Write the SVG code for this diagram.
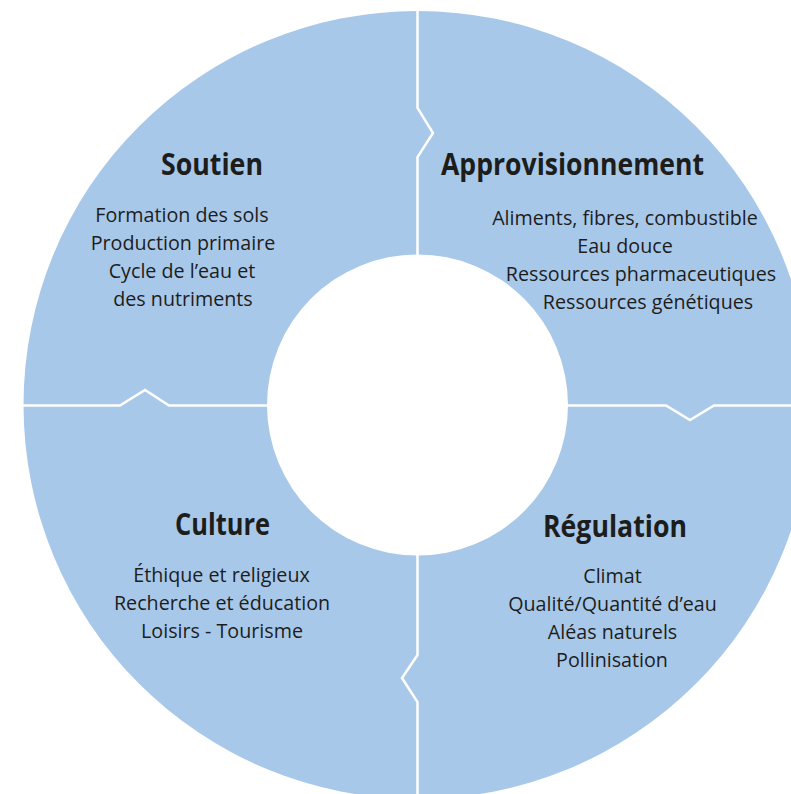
<svg xmlns="http://www.w3.org/2000/svg" width="791" height="794" viewBox="0 0 791 794">
<style>
.ring{fill:#a8c8ea;fill-rule:evenodd}
.div{fill:none;stroke:#ffffff;stroke-width:2.5;stroke-linejoin:miter}
.title{font-family:"Open Sans","Liberation Sans",sans-serif;font-weight:bold;font-size:30px;fill:#1d1d1b;text-anchor:middle}
.body{font-family:"Open Sans","Liberation Sans",sans-serif;font-size:19.7px;fill:#1d1d1b;text-anchor:middle}
</style>
<rect width="791" height="794" fill="#ffffff"/>
<path class="ring" d="M23.5,405 A394,394 0 1,0 811.5,405 A394,394 0 1,0 23.5,405 Z M267,405 A150.5,150.5 0 1,1 568,405 A150.5,150.5 0 1,1 267,405 Z"/>
<g id="connectors">
<polyline class="div" points="417.5,10 417.5,108 433,133 417.5,157 417.5,256"/>
<polyline class="div" points="22,405.5 120,405.5 145,390 169,405.5 268,405.5"/>
<polyline class="div" points="567,405.5 666,405.5 690,420 714,405.5 813,405.5"/>
<polyline class="div" points="417.5,554 417.5,655 402,678 417.5,702 417.5,800"/>
</g>
<g id="soutien">
<text class="title" x="212" y="175" textLength="102" lengthAdjust="spacingAndGlyphs">Soutien</text>
<text class="body" x="182" y="222">Formation des sols</text>
<text class="body" x="183" y="250">Production primaire</text>
<text class="body" x="182" y="278">Cycle de l’eau et</text>
<text class="body" x="183" y="306">des nutriments</text>
</g>
<g id="approvisionnement">
<text class="title" x="572.5" y="175" textLength="263" lengthAdjust="spacingAndGlyphs">Approvisionnement</text>
<text class="body" x="625" y="225">Aliments, fibres, combustible</text>
<text class="body" x="625" y="253">Eau douce</text>
<text class="body" x="641" y="281">Ressources pharmaceutiques</text>
<text class="body" x="648" y="309">Ressources génétiques</text>
</g>
<g id="culture">
<text class="title" x="222.5" y="535" textLength="95" lengthAdjust="spacingAndGlyphs">Culture</text>
<text class="body" x="221.5" y="582">Éthique et religieux</text>
<text class="body" x="222" y="610">Recherche et éducation</text>
<text class="body" x="222" y="638">Loisirs - Tourisme</text>
</g>
<g id="regulation">
<text class="title" x="615" y="537" textLength="144" lengthAdjust="spacingAndGlyphs">Régulation</text>
<text class="body" x="612.5" y="583">Climat</text>
<text class="body" x="612.5" y="611">Qualité/Quantité d’eau</text>
<text class="body" x="612.5" y="639">Aléas naturels</text>
<text class="body" x="612" y="667">Pollinisation</text>
</g>
</svg>
